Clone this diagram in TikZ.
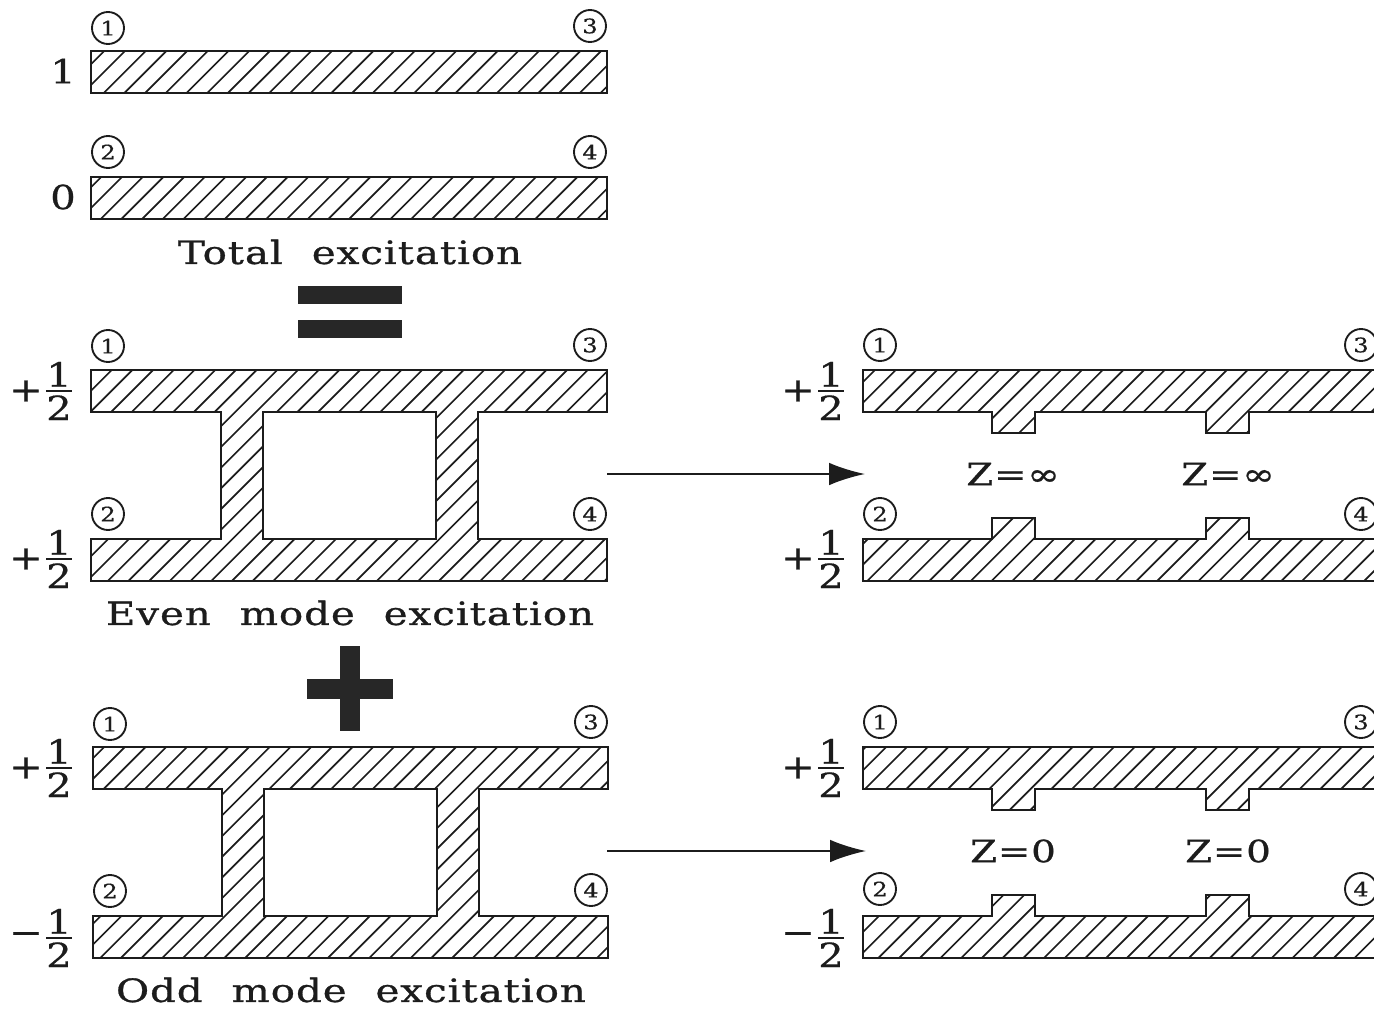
\documentclass[tikz,border=0pt]{standalone}
\usepackage{fontspec}
\usetikzlibrary{arrows.meta}
\newfontfamily\lab[LetterSpace=3,WordSpace=2.1,FakeStretch=1.26,FakeBold=0.9]{DejaVu Serif}
\newfontfamily\digitf[FakeStretch=1.2,FakeBold=0.5]{DejaVu Serif}
\definecolor{ink}{HTML}{1C1C1C}
\tikzset{
  outline/.style={draw=ink,line width=2pt,line join=miter},
  hatchline/.style={draw=ink,line width=1.25pt},
  port/.style={circle,draw=ink,line width=1.4pt,minimum size=24pt,inner sep=0pt,text=ink,font=\digitf\fontsize{15}{15}\selectfont},
  caption/.style={text=ink,font=\lab\fontsize{24}{24}\selectfont,inner sep=0pt},
  frdigit/.style={text=ink,font=\digitf\fontsize{25}{25}\selectfont,inner sep=0pt},
  zlabel/.style={text=ink,font=\lab\fontsize{23}{24}\selectfont,inner sep=0pt},
  solidblk/.style={fill=ink!95!white,draw=none},
  flow/.style={draw=ink,line width=1.6pt,-{Latex[length=27pt,width=17pt]}},
}
% hatched polygon: #1 = phase of the hatching, #2 = path
\newcommand{\hatched}[2]{%
  \begin{scope}
    \clip #2;
    \foreach \i in {0,...,114} {
      \draw[hatchline] ({#1+\i*20.7},0) -- ({#1+\i*20.7-1000},1000);
    }
  \end{scope}
  \draw[outline] #2;
}
% signed fraction: #1 name, #2 x of the bar centre, #3 y of the bar, #4 sign
\newcommand{\signfrac}[4]{%
  \node[frdigit] (#1s) at ({#2-33},#3) {#4};
  \node[frdigit,anchor=south] (#1n) at (#2,{#3-4}) {1};
  \node[frdigit,anchor=north] (#1d) at (#2,{#3+4}) {2};
  \draw[ink,line width=1.5pt] ({#2-13},#3) -- ({#2+13},#3);
}
\begin{document}
\begin{tikzpicture}[x=.75pt,y=-.75pt]
\clip (0,0) rectangle (1374,1010);
\fill[white] (0,0) rectangle (1374,1010);

% ---- Total excitation
\hatched{10.4}{(91,51) rectangle (607,93)}
\hatched{9.2}{(91,177) rectangle (607,219)}
\node[port] (t1) at (108,28) {1};
\node[port] (t3) at (590,26) {3};
\node[port] (t2) at (108,152) {2};
\node[port] (t4) at (590,152) {4};
\node[frdigit] (v1) at (63,71) {1};
\node[frdigit] (v0) at (63,197) {0};
\node[caption] (cap1) at (350,252) {Total excitation};
\fill[solidblk] (298,286) rectangle (402,304);
\fill[solidblk] (298,320) rectangle (402,338);

% ---- Even mode, left
\hatched{5.6}{(91,370) -- (607,370) -- (607,412) -- (478,412) -- (478,539) -- (607,539) -- (607,581) -- (91,581) -- (91,539) -- (221,539) -- (221,412) -- (91,412) -- cycle}
\draw[outline,fill=white] (263,412) rectangle (436,539);
\node[port] (e1) at (108,346) {1};
\node[port] (e3) at (590,345) {3};
\node[port] (e2) at (108,514) {2};
\node[port] (e4) at (590,514) {4};
\signfrac{ea}{59}{391}{+}
\signfrac{eb}{59}{559}{+}
\node[caption] (cap2) at (350,613) {Even mode excitation};

% ---- Plus
\fill[solidblk] (340,646) rectangle (360,731);
\fill[solidblk] (307,679) rectangle (393,699);

% ---- Odd mode, left
\hatched{2.5}{(93,747) -- (608,747) -- (608,789) -- (479,789) -- (479,916) -- (608,916) -- (608,958) -- (93,958) -- (93,916) -- (222,916) -- (222,789) -- (93,789) -- cycle}
\draw[outline,fill=white] (264,789) rectangle (437,916);
\node[port] (o1) at (110,724) {1};
\node[port] (o3) at (591,722) {3};
\node[port] (o2) at (110,891) {2};
\node[port] (o4) at (591,890) {4};
\signfrac{oa}{59}{768}{+}
\signfrac{ob}{59}{938}{−}
\node[caption] (cap3) at (351,990) {Odd mode excitation};

% ---- Even mode, right
\hatched{3}{(863,370) -- (1380,370) -- (1380,412) -- (1249,412) -- (1249,433) -- (1206,433) -- (1206,412) -- (1035,412) -- (1035,433) -- (992,433) -- (992,412) -- (863,412) -- cycle}
\hatched{20}{(863,539) -- (992,539) -- (992,518) -- (1035,518) -- (1035,539) -- (1206,539) -- (1206,518) -- (1249,518) -- (1249,539) -- (1380,539) -- (1380,581) -- (863,581) -- cycle}
\node[port] (r1) at (880,345) {1};
\node[port] (r3) at (1361,345) {3};
\node[port] (r2) at (880,514) {2};
\node[port] (r4) at (1361,514) {4};
\signfrac{ra}{831}{391}{+}
\signfrac{rb}{831}{559}{+}
\node[zlabel] (z1) at (1013,474) {Z=∞};
\node[zlabel] (z2) at (1228,474) {Z=∞};

% ---- Odd mode, right
\hatched{18.7}{(863,747) -- (1380,747) -- (1380,789) -- (1249,789) -- (1249,810) -- (1206,810) -- (1206,789) -- (1035,789) -- (1035,810) -- (992,810) -- (992,789) -- (863,789) -- cycle}
\hatched{14.8}{(863,916) -- (992,916) -- (992,895) -- (1035,895) -- (1035,916) -- (1206,916) -- (1206,895) -- (1249,895) -- (1249,916) -- (1380,916) -- (1380,958) -- (863,958) -- cycle}
\node[port] (s1) at (880,722) {1};
\node[port] (s3) at (1361,722) {3};
\node[port] (s2) at (880,889) {2};
\node[port] (s4) at (1361,889) {4};
\signfrac{sa}{831}{768}{+}
\signfrac{sb}{831}{938}{−}
\node[zlabel] (z3) at (1013,851) {Z=0};
\node[zlabel] (z4) at (1228,851) {Z=0};

% ---- Arrows
\coordinate (a1s) at (607,474);
\coordinate (a1e) at (865,474);
\coordinate (a2s) at (607,851);
\coordinate (a2e) at (866,851);
\draw[flow] (a1s) -- (a1e);
\draw[flow] (a2s) -- (a2e);
\end{tikzpicture}
\end{document}
